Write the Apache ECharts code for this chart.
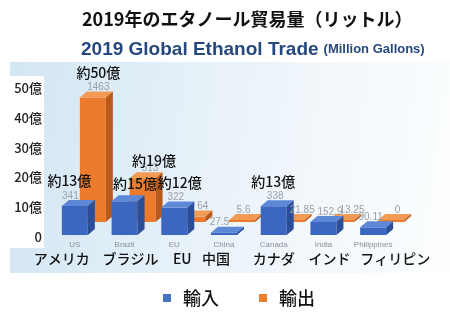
<!DOCTYPE html>
<html><head><meta charset="utf-8">
<script src="https://cdn.jsdelivr.net/npm/echarts@6/dist/echarts.min.js"></script>
<style>html,body{margin:0;padding:0;background:#fff}#c{width:450px;height:321px}</style>
</head><body><div id="c"></div>
<script>
const categoriesEn = ['US','Brazil','EU','China','Canada','India','Philippines'];
const categoriesJa = ['アメリカ','ブラジル','EU','中国','カナダ','インド','フィリピン'];
const imports = [341, 396, 322, 27.5, 338, 152.9, 90.11];
const exportsData = [1463, 513, 64, 5.6, 21.85, 13.25, 0];
const importLabels = ['341','','322','27.5','338','152.9','90.11'];
const exportLabels = ['1463','513','64','5.6','21.85','13.25','0'];
const importNotes = ['約13億','約15億','約12億','','約13億','',''];
const exportNotes = ['約50億','約19億','','','','',''];
const yTickLabels = ['0','10億','20億','30億','40億','50億'];

const JA = '"Noto Sans CJK JP", sans-serif';
// layout tweaks (style only)
const jaShift = [-13, 6, 8, -8, 0, 6, 22];
const importLabelDx = [-8, 0, -2, -8, -2, 3, -6];
const exportLabelDx = [2, 4, 7, -2, 7, 7, 3];
const importNoteDx = [-1, 7, 4, 0, -2, 0, 0];
const importNoteDy = [-15, -8, -15, 0, -15, 0, 0];
const exportNoteDx = [0, 4, 0, 0, 0, 0, 0];
const exportNoteDy = [-15, -8, 0, 0, 0, 0, 0];

const BW = 26, DX = 7, DY = 6;

function geom(api, opt) {
  const i = api.value(0), v = api.value(1);
  const base = api.coord([i, 0]);
  const top = api.coord([i, v]);
  const x0 = base[0] - BW / 2 + opt.ox, x1 = x0 + BW;
  const yb = base[1] + opt.oy;
  let yt = top[1] + opt.oy;
  if (yb - yt < 2) yt = yb - 2;
  return {i, x0, x1, yb, yt};
}

function barRender(opt) {
  return function (params, api) {
    const g = geom(api, opt);
    return {type: 'group', children: [
      {type: 'rect', shape: {x: g.x0, y: g.yt, width: BW, height: g.yb - g.yt}, style: {fill: opt.front}},
      {type: 'polygon', shape: {points: [[g.x0, g.yt], [g.x0 + DX, g.yt - DY], [g.x1 + DX, g.yt - DY], [g.x1, g.yt]]}, style: {fill: opt.top}},
      {type: 'polygon', shape: {points: [[g.x1, g.yt], [g.x1 + DX, g.yt - DY], [g.x1 + DX, g.yb - DY], [g.x1, g.yb]]}, style: {fill: opt.side}}
    ]};
  };
}

function textRender(opt, labels, notes, ldx, ndx, ndy) {
  return function (params, api) {
    const g = geom(api, opt);
    const i = g.i;
    const lx = g.x0 + BW / 2 + DX / 2 + ldx[i];
    const ly = g.yt - DY - 4;
    const children = [];
    if (labels[i]) children.push({type: 'text', style: {text: labels[i], x: lx, y: ly, align: 'center', verticalAlign: 'middle', fill: '#9aa0a8', font: '10px "Liberation Sans", sans-serif'}});
    if (notes[i]) children.push({type: 'text', style: {text: notes[i], x: lx + ndx[i], y: ly + ndy[i], align: 'center', verticalAlign: 'middle', fill: '#111', font: '500 14px ' + JA}});
    return {type: 'group', children: children};
  };
}

const jaRich = {};
jaShift.forEach((s, i) => {
  jaRich['ja' + i] = {fontSize: 14, color: '#111', lineHeight: 18, fontFamily: JA, fontWeight: 500,
    padding: s >= 0 ? [0, 0, 0, 2 * s] : [0, -2 * s, 0, 0]};
});
jaRich.en = {fontSize: 8, color: '#8a8f96', lineHeight: 11, fontFamily: '"Liberation Sans", sans-serif'};

const impOpt = {ox: 0, oy: -2, front: '#3b67c0', top: '#5d88d8', side: '#2a4e98'};
const expOpt = {ox: 18, oy: -15, front: '#ec7a2c', top: '#f39a55', side: '#b9591a'};
const impData = imports.map((v, i) => [i, v]);
const expData = exportsData.map((v, i) => [i, v]);

const chart = echarts.init(document.getElementById('c'));
chart.setOption({
  animation: false,
  color: ['#4472c4', '#ed7d31'],
  title: [
    {text: '2019年のエタノール貿易量（リットル）', left: 77, top: 5,
     textStyle: {fontFamily: JA, fontSize: 18, fontWeight: 'bold', color: '#111'}},
    {text: '{a|2019 Global Ethanol Trade} {b|(Million Gallons)}', left: 76, top: 35,
     textStyle: {rich: {
       a: {fontFamily: '"Liberation Sans", Arial, sans-serif', fontSize: 19, fontWeight: 'bold', color: '#26487e'},
       b: {fontFamily: '"Liberation Sans", Arial, sans-serif', fontSize: 13, fontWeight: 'bold', color: '#26487e'}}}}
  ],
  graphic: [
    {type: 'rect', z: -100, silent: true, shape: {x: 10, y: 62, width: 440, height: 211},
     style: {fill: new echarts.graphic.LinearGradient(0, 0, 1, 0.3, [{offset: 0, color: '#d2e6f3'}, {offset: 0.6, color: '#eef5fa'}, {offset: 1, color: '#fbfdfe'}])}},
    {type: 'rect', z: -99, silent: true, shape: {x: 8, y: 76, width: 36, height: 172}, style: {fill: '#ffffff'}}
  ],
  legend: {
    data: ['輸入', '輸出'], top: 284, left: 158, icon: 'rect', itemWidth: 8, itemHeight: 8,
    itemGap: 40, textStyle: {fontFamily: JA, fontSize: 18, fontWeight: 500, color: '#111', padding: [0, 0, 0, 7]}
  },
  grid: {left: 50, right: 52, top: 88, bottom: 84},
  xAxis: {
    type: 'category', data: categoriesEn,
    axisLine: {show: false}, axisTick: {show: false},
    axisLabel: {
      interval: 0, margin: 2,
      formatter: (v, i) => '{en|' + v + '}\n{ja' + i + '|' + categoriesJa[i] + '}',
      rich: jaRich
    }
  },
  yAxis: [
    {type: 'value', min: 0, max: 50, interval: 10,
     axisLine: {show: false}, axisTick: {show: false}, splitLine: {show: false},
     axisLabel: {margin: 8, color: '#222', fontSize: 13, fontWeight: 500, fontFamily: JA,
       formatter: (v) => yTickLabels[v / 10]}},
    {type: 'value', min: 0, max: 1750, show: false, splitLine: {show: false}}
  ],
  series: [
    {name: '輸入', type: 'custom', xAxisIndex: 0, yAxisIndex: 1, z: 4,
     itemStyle: {color: '#4472c4'}, renderItem: barRender(impOpt), data: impData},
    {name: '輸出', type: 'custom', xAxisIndex: 0, yAxisIndex: 1, z: 3,
     itemStyle: {color: '#ed7d31'}, renderItem: barRender(expOpt), data: expData},
    {name: '輸出ラベル', type: 'custom', xAxisIndex: 0, yAxisIndex: 1, z: 5, silent: true,
     renderItem: textRender(expOpt, exportLabels, exportNotes, exportLabelDx, exportNoteDx, exportNoteDy), data: expData},
    {name: '輸入ラベル', type: 'custom', xAxisIndex: 0, yAxisIndex: 1, z: 6, silent: true,
     renderItem: textRender(impOpt, importLabels, importNotes, importLabelDx, importNoteDx, importNoteDy), data: impData}
  ]
});
</script></body></html>
